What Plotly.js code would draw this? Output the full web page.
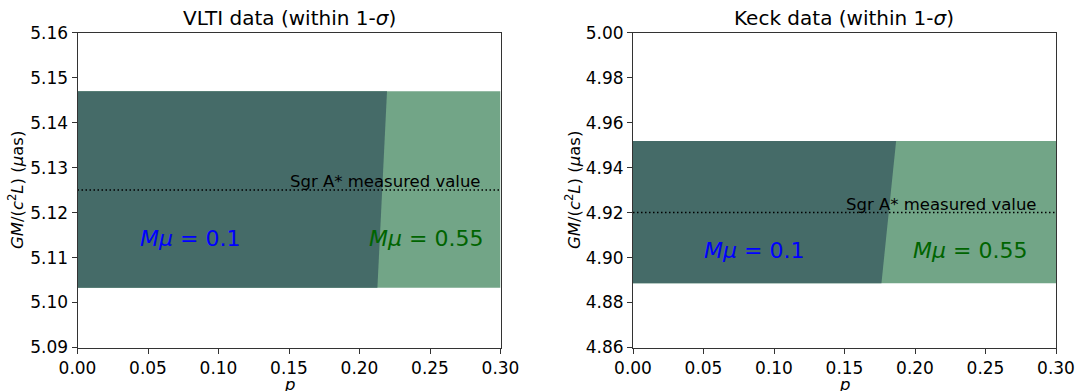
<!DOCTYPE html>
<html>
<head>
<meta charset="utf-8">
<script src="https://cdn.plot.ly/plotly-3.0.1.min.js"></script>
<style>html,body{margin:0;padding:0;background:#fff;}#chart{width:1077px;height:391px;}</style>
</head>
<body>
<div id="chart"></div>
<script>
// ---- data ----
const xRange = [0.0, 0.30];
const xTicks = [0.00, 0.05, 0.10, 0.15, 0.20, 0.25, 0.30];

// VLTI panel
const vltiBand = [5.1033, 5.1470];          // 1-sigma band (low, high)
const vltiBoundaryX = [0.2195, 0.2127];     // boundary x at band top, band bottom
const vltiMeasured = 5.125;
const vltiYRange = [5.09, 5.16];
const vltiYTicks = [5.09, 5.10, 5.11, 5.12, 5.13, 5.14, 5.15, 5.16];
const vltiLabelY = 5.1142;
const vltiLabelX = [0.080, 0.2475];

// Keck panel
const keckBand = [4.8886, 4.9518];
const keckBoundaryX = [0.1866, 0.1762];
const keckMeasured = 4.920;
const keckYRange = [4.86, 5.00];
const keckYTicks = [4.86, 4.88, 4.90, 4.92, 4.94, 4.96, 4.98, 5.00];
const keckLabelY = 4.9032;
const keckLabelX = [0.086, 0.239];

const titles = ["VLTI data (within 1-<i>σ</i>)", "Keck data (within 1-<i>σ</i>)"];
const muLabels = ["<i>Mμ</i> = 0.1", "<i>Mμ</i> = 0.55"];
const measuredLabel = "Sgr A* measured value";

// ---- styling ----
const LIGHT = "#72a587";
const DARK = "#456b68";
const FONT = "DejaVu Sans, sans-serif";

function panelTraces(band, bnd, measured, xa, ya) {
  return [
    {x: [xRange[0], xRange[1], xRange[1], xRange[0], xRange[0]],
     y: [band[0], band[0], band[1], band[1], band[0]],
     type: "scatter", mode: "lines", fill: "toself", fillcolor: LIGHT,
     line: {width: 0}, hoverinfo: "skip", xaxis: xa, yaxis: ya},
    {x: [xRange[0], bnd[0], bnd[1], xRange[0], xRange[0]],
     y: [band[1], band[1], band[0], band[0], band[1]],
     type: "scatter", mode: "lines", fill: "toself", fillcolor: DARK,
     line: {width: 0}, hoverinfo: "skip", xaxis: xa, yaxis: ya},
    {x: xRange, y: [measured, measured],
     type: "scatter", mode: "lines",
     line: {color: "black", width: 1.5, dash: "1.5px,2.5px"},
     hoverinfo: "skip", xaxis: xa, yaxis: ya}
  ];
}

const traces = [].concat(
  panelTraces(vltiBand, vltiBoundaryX, vltiMeasured, "x", "y"),
  panelTraces(keckBand, keckBoundaryX, keckMeasured, "x2", "y2")
);

const H = 391, W = 1077;
const yDom = [1 - 347.5 / H, 1 - 32.7 / H];

function xaxisDef(domain, anchor) {
  return {
    domain: domain, anchor: anchor, range: xRange, tickvals: xTicks,
    ticktext: xTicks.map(v => v.toFixed(2)), ticklabeloverflow: "allow",
    showgrid: false, zeroline: false, showline: true, mirror: true,
    linecolor: "#333", linewidth: 1, ticks: "outside", ticklen: 5,
    tickcolor: "#333", tickfont: {family: FONT, size: 17, color: "black"}
  };
}
function yaxisDef(range, ticks, anchor) {
  return {
    domain: yDom, anchor: anchor, range: range, tickvals: ticks,
    ticktext: ticks.map(v => v.toFixed(2)), ticklabeloverflow: "allow",
    showgrid: false, zeroline: false, showline: true, mirror: true,
    linecolor: "#333", linewidth: 1, ticks: "outside", ticklen: 5,
    tickcolor: "#333", tickfont: {family: FONT, size: 17, color: "black"}
  };
}

const xDom1 = [77.5 / W, 500.5 / W];
const xDom2 = [633 / W, 1056 / W];

const ann = [];
// titles
[[xDom1, titles[0]], [xDom2, titles[1]]].forEach(([d, t]) => {
  ann.push({xref: "paper", yref: "paper", x: (d[0] + d[1]) / 2, y: 1 - 18.5 / H,
    xanchor: "center", yanchor: "middle", showarrow: false, text: t,
    font: {family: FONT, size: 20, color: "black"}});
});
// x titles
[xDom1, xDom2].forEach(d => {
  ann.push({xref: "paper", yref: "paper", x: (d[0] + d[1]) / 2, y: 1 - 384 / H,
    xanchor: "center", yanchor: "middle", showarrow: false, text: "<i>p</i>",
    font: {family: FONT, size: 16.5, color: "black"}});
});
// y titles
[16, 573].forEach(px => {
  ann.push({xref: "paper", yref: "paper", x: px / W, y: (yDom[0] + yDom[1]) / 2,
    xanchor: "center", yanchor: "middle", showarrow: false, textangle: -90,
    text: "<i>GM</i>/(<i>c</i><sup>2</sup><i>L</i>) (<i>μ</i>as)",
    font: {family: FONT, size: 16.5, color: "black"}});
});
// in-plot labels
function panelLabels(xr, yr, labX, labY, measured) {
  ann.push({xref: xr, yref: yr, x: labX[0], y: labY, showarrow: false,
    xanchor: "center", yanchor: "middle", text: muLabels[0],
    font: {family: FONT, size: 22, color: "blue"}});
  ann.push({xref: xr, yref: yr, x: labX[1], y: labY, showarrow: false,
    xanchor: "center", yanchor: "middle", text: muLabels[1],
    font: {family: FONT, size: 22, color: "#006400"}});
  ann.push({xref: xr, yref: yr, x: 0.15, y: measured, showarrow: false,
    xanchor: "left", yanchor: "bottom", borderpad: 0, yshift: -2, text: measuredLabel,
    font: {family: FONT, size: 16.5, color: "black"}});
}
panelLabels("x", "y", vltiLabelX, vltiLabelY, vltiMeasured);
panelLabels("x2", "y2", keckLabelX, keckLabelY, keckMeasured);

const layout = {
  width: W, height: H,
  margin: {l: 0, r: 0, t: 0, b: 0},
  paper_bgcolor: "white", plot_bgcolor: "white",
  showlegend: false,
  xaxis: xaxisDef(xDom1, "y"),
  yaxis: yaxisDef(vltiYRange, vltiYTicks, "x"),
  xaxis2: xaxisDef(xDom2, "y2"),
  yaxis2: yaxisDef(keckYRange, keckYTicks, "x2"),
  annotations: ann,
  font: {family: FONT}
};

Plotly.newPlot("chart", traces, layout, {displayModeBar: false, staticPlot: true});
</script>
</body>
</html>
